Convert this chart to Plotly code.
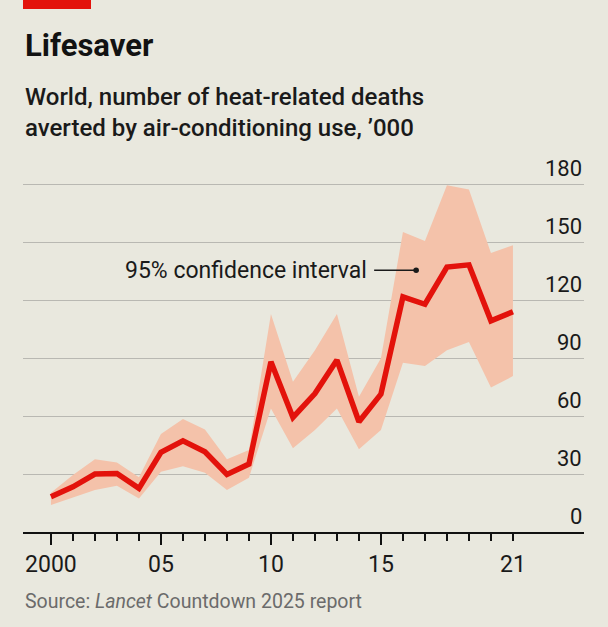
import plotly.graph_objects as go

# ---- data ----
years = list(range(2000, 2022))
central = [18.3, 23.4, 30.0, 30.3, 22.6, 41.2, 47.2, 41.5, 29.8, 35.2, 88.1,
           59.3, 71.7, 89.0, 57.1, 71.4, 121.7, 117.9, 137.2, 138.3, 109.3, 114.0]
upper = [20.3, 29.5, 37.6, 36.0, 28.3, 50.7, 58.5, 53.1, 37.6, 42.4, 112.8,
         77.8, 94.1, 112.8, 70.0, 90.0, 155.3, 150.7, 179.5, 177.3, 144.5, 148.4]
lower = [14.0, 17.8, 21.7, 24.0, 17.4, 31.2, 34.1, 30.7, 21.7, 28.1, 64.0,
         43.3, 52.8, 64.0, 42.8, 52.8, 87.6, 85.9, 94.1, 98.4, 74.8, 80.7]
y_ticks = [0, 30, 60, 90, 120, 150, 180]
x_major = [2000, 2005, 2010, 2015, 2020]
x_major_text = ["2000", "05", "10", "15", ""]

BG = "#e9e8de"
RED = "#e3120b"
BAND = "#f4c2aa"
FONT = "Roboto"

W, H = 608, 627
ML, MR, MT, MB = 23, 24, 165, 95
plot_h = H - MT - MB

def py(pixel_y):
    """convert a pixel row to paper y"""
    return (H - MB - pixel_y) / plot_h

fig = go.Figure()
fig.add_trace(go.Scatter(x=years, y=lower, mode="lines", line=dict(width=0),
                         hoverinfo="skip", showlegend=False))
fig.add_trace(go.Scatter(x=years, y=upper, mode="lines", line=dict(width=0),
                         fill="tonexty", fillcolor=BAND, hoverinfo="skip",
                         showlegend=False))
fig.add_trace(go.Scatter(x=years, y=central, mode="lines",
                         line=dict(color=RED, width=5.5), showlegend=False))

annotations = []
for v in y_ticks:
    annotations.append(dict(x=1, xref="paper", y=v, yref="y", text=str(v),
                            xanchor="right", yanchor="bottom", showarrow=False,
                            yshift=1, font=dict(family=FONT, size=22, color="#1a1a1a")))
annotations.append(dict(x=2021, xref="x", y=0, yref="y", text="21",
                        xanchor="center", yanchor="top", showarrow=False,
                        yshift=-17, font=dict(family=FONT, size=23, color="#1a1a1a")))
# title & subtitle
annotations.append(dict(x=0, xref="paper", y=py(45), yref="paper", text="<b>Lifesaver</b>",
                        xanchor="left", yanchor="middle", showarrow=False,
                        font=dict(family=FONT, size=31, color="#121212")))
annotations.append(dict(x=0, xref="paper", y=py(113), yref="paper",
                        text="World, number of heat-related deaths<br>averted by air-conditioning use, ’000",
                        xanchor="left", yanchor="middle", showarrow=False, align="left",
                        font=dict(family=FONT, size=24, color="#1a1a1a", weight=500)))
annotations.append(dict(x=0, xref="paper", y=py(601), yref="paper",
                        text="Source: <i>Lancet</i> Countdown 2025 report",
                        xanchor="left", yanchor="middle", showarrow=False,
                        font=dict(family=FONT, size=19.5, color="#6b6b6b")))
# confidence interval label
dot_x, dot_y = 2016.6, 135.5
annotations.append(dict(x=dot_x, xref="x", y=dot_y, yref="y", text="95% confidence interval",
                        xanchor="right", yanchor="middle", showarrow=False, xshift=-47,
                        font=dict(family=FONT, size=23, color="#1a1a1a")))

shapes = [
    dict(type="rect", xref="paper", yref="paper", x0=0, x1=(91 - ML) / (W - ML - MR),
         y0=py(9), y1=py(0), fillcolor=RED, line=dict(width=0)),
    dict(type="line", xref="x", yref="y", xsizemode="pixel", xanchor=dot_x,
         x0=-42, x1=0, y0=dot_y, y1=dot_y, line=dict(color="#1a1a1a", width=1.5)),
    dict(type="circle", xref="x", yref="y", xsizemode="pixel", ysizemode="pixel",
         xanchor=dot_x, yanchor=dot_y, x0=-2.8, x1=2.8, y0=-2.8, y1=2.8,
         fillcolor="#1a1a1a", line=dict(width=0)),
]

fig.update_layout(
    width=W, height=H,
    margin=dict(l=ML, r=MR, t=MT, b=MB, pad=0),
    paper_bgcolor=BG, plot_bgcolor=BG,
    annotations=annotations, shapes=shapes,
    xaxis=dict(range=[1998.73, 2024.23], showgrid=False, zeroline=False,
               showline=True, linecolor="#111111", linewidth=1.5,
               ticks="outside", tickvals=x_major, ticktext=x_major_text,
               ticklen=11, tickwidth=1.5, tickcolor="#111111",
               tickfont=dict(family=FONT, size=23, color="#1a1a1a"),
               minor=dict(tickvals=years, ticks="outside", ticklen=7,
                          tickwidth=1.5, tickcolor="#111111", showgrid=False),
               fixedrange=True),
    yaxis=dict(range=[0, 190], tickvals=y_ticks, showticklabels=False,
               showgrid=True, gridcolor="#b9b8b2", gridwidth=1.3,
               zeroline=False, showline=False, ticks="", fixedrange=True),
    showlegend=False,
)

fig.write_html("out.html")
